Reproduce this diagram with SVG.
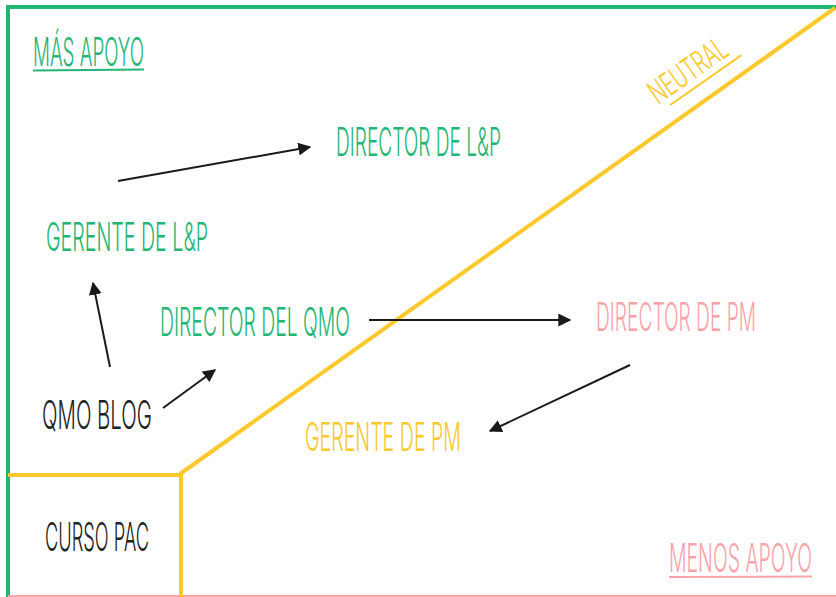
<svg xmlns="http://www.w3.org/2000/svg" width="836" height="597" viewBox="0 0 836 597">
<style>
.t{font-family:Inter,"Liberation Sans",sans-serif;font-weight:300;font-size:40px}
.g{fill:#22b573}.y{fill:#fcc82a}.p{fill:#f7a3a8}.k{fill:#222}
.arr{stroke:#1a1a1a;stroke-width:2;fill:none;marker-end:url(#ah)}
</style>
<defs>
<marker id="ah" viewBox="0 0 10 10" refX="9" refY="5" markerWidth="6.5" markerHeight="6.5" orient="auto" markerUnits="strokeWidth">
<path d="M0,0 L10,5 L0,10 Z" fill="#1a1a1a"/>
</marker>
</defs>
<rect width="836" height="597" fill="#fff"/>
<g id="frame">
<line x1="6" y1="7" x2="836" y2="7" stroke="#22b573" stroke-width="4"/>
<line x1="8" y1="5" x2="8" y2="597" stroke="#22b573" stroke-width="4"/>
<line x1="8" y1="596" x2="836" y2="596" stroke="#f7a3a8" stroke-width="2"/>
<line x1="180" y1="474" x2="835" y2="8" stroke="#fcc82a" stroke-width="4"/>
<line x1="8" y1="475" x2="182" y2="475" stroke="#fcc82a" stroke-width="4"/>
<line x1="181" y1="474" x2="181" y2="597" stroke="#fcc82a" stroke-width="4"/>
</g>
<g id="mas-apoyo">
<text class="t g" transform="translate(33,66) scale(0.55,1)" textLength="201.8" lengthAdjust="spacingAndGlyphs">MÁS APOYO</text>
<line x1="33" y1="70.5" x2="144" y2="69.5" stroke="#22b573" stroke-width="2"/>
</g>
<g id="neutral" transform="translate(658,105) rotate(-35)">
<text class="t y" transform="scale(0.55,1)" style="font-size:32px" textLength="162" lengthAdjust="spacingAndGlyphs">NEUTRAL</text>
<line x1="10" y1="7" x2="97" y2="7" stroke="#fcc82a" stroke-width="2"/>
</g>
<g id="menos-apoyo">
<text class="t p" transform="translate(669,572) scale(0.55,1)" textLength="260" lengthAdjust="spacingAndGlyphs">MENOS APOYO</text>
<line x1="669" y1="577" x2="812" y2="576.5" stroke="#f7a3a8" stroke-width="2"/>
</g>
<g id="director-lp"><text class="t g" transform="translate(336,156) scale(0.55,1)" textLength="300" lengthAdjust="spacingAndGlyphs">DIRECTOR DE L&amp;P</text></g>
<g id="gerente-lp"><text class="t g" transform="translate(46,251) scale(0.55,1)" textLength="294.5" lengthAdjust="spacingAndGlyphs">GERENTE DE L&amp;P</text></g>
<g id="director-qmo"><text class="t g" transform="translate(160,336) scale(0.55,1)" textLength="345.5" lengthAdjust="spacingAndGlyphs">DIRECTOR DEL QMO</text></g>
<g id="director-pm"><text class="t p" transform="translate(596,331) scale(0.55,1)" textLength="291" lengthAdjust="spacingAndGlyphs">DIRECTOR DE PM</text></g>
<g id="gerente-pm"><text class="t y" transform="translate(305,451) scale(0.55,1)" textLength="283.6" lengthAdjust="spacingAndGlyphs">GERENTE DE PM</text></g>
<g id="qmo-blog"><text class="t k" transform="translate(42,429) scale(0.55,1)" textLength="200" lengthAdjust="spacingAndGlyphs">QMO BLOG</text></g>
<g id="curso-pac"><text class="t k" transform="translate(45,551) scale(0.55,1)" textLength="189" lengthAdjust="spacingAndGlyphs">CURSO PAC</text></g>
<g id="connectors">
<line class="arr" x1="118" y1="181" x2="310" y2="147"/>
<line class="arr" x1="110" y1="367" x2="93" y2="283"/>
<line class="arr" x1="163" y1="408" x2="215" y2="370"/>
<line class="arr" x1="369" y1="320" x2="570" y2="320"/>
<line class="arr" x1="630" y1="365" x2="490" y2="431"/>
</g>
</svg>
